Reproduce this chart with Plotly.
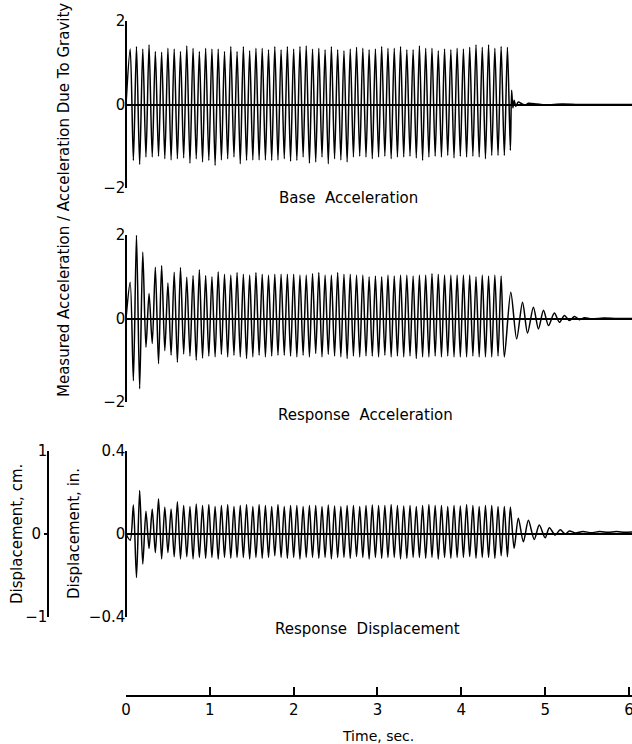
import plotly.graph_objects as go

W, H = 632, 744

# Times (s) of successive extremes during forced vibration, read from the record
t_forced = [
    0.050, 0.088, 0.125, 0.163, 0.200, 0.238, 0.275, 0.313,
    0.350, 0.388, 0.425, 0.463, 0.500, 0.538, 0.575, 0.613,
    0.650, 0.688, 0.725, 0.763, 0.800, 0.838, 0.875, 0.913,
    0.950, 0.988, 1.025, 1.063, 1.100, 1.138, 1.175, 1.213,
    1.250, 1.288, 1.325, 1.363, 1.400, 1.438, 1.475, 1.513,
    1.550, 1.588, 1.625, 1.663, 1.700, 1.738, 1.775, 1.813,
    1.850, 1.888, 1.925, 1.963, 2.000, 2.038, 2.075, 2.113,
    2.150, 2.188, 2.225, 2.263, 2.300, 2.338, 2.375, 2.413,
    2.450, 2.488, 2.525, 2.563, 2.600, 2.638, 2.675, 2.713,
    2.750, 2.788, 2.825, 2.863, 2.900, 2.938, 2.975, 3.013,
    3.050, 3.088, 3.125, 3.163, 3.200, 3.238, 3.275, 3.313,
    3.350, 3.388, 3.425, 3.463, 3.500, 3.538, 3.575, 3.613,
    3.650, 3.688, 3.725, 3.763, 3.800, 3.838, 3.875, 3.913,
    3.950, 3.988, 4.025, 4.063, 4.100, 4.138, 4.175, 4.213,
    4.250, 4.288, 4.325, 4.363, 4.400, 4.438, 4.475, 4.513,
    4.550,
]

# Base acceleration (g)
base_peaks = [
    1.33, 1.39, 1.33, 1.43, 1.27, 1.25, 1.35, 1.33, 1.27, 1.41, 1.35, 1.27, 1.35, 1.33,
    1.33, 1.27, 1.39, 1.27, 1.39, 1.29, 1.35, 1.35, 1.31, 1.39, 1.31, 1.39, 1.33,
    1.39, 1.41, 1.33, 1.35, 1.31, 1.39, 1.31, 1.29, 1.33, 1.37, 1.35, 1.31, 1.33, 1.39,
    1.35, 1.35, 1.39, 1.31, 1.31, 1.41, 1.35, 1.35, 1.29, 1.33, 1.31, 1.35, 1.33, 1.37,
    1.43, 1.37, 1.43, 1.35, 1.39, 1.37,
]
base_troughs = [
    -1.34, -1.44, -1.26, -1.26, -1.24, -1.30, -1.33, -1.30, -1.28, -1.41, -1.30, -1.38,
    -1.34, -1.46, -1.33, -1.30, -1.26, -1.42, -1.34, -1.33, -1.33, -1.33, -1.34, -1.33,
    -1.30, -1.36, -1.34,
    -1.26, -1.41, -1.38, -1.26, -1.42, -1.30, -1.33, -1.38, -1.26, -1.24, -1.26, -1.30,
    -1.26, -1.24, -1.30, -1.26, -1.26, -1.24, -1.28, -1.34, -1.26, -1.24, -1.26, -1.22,
    -1.28, -1.24, -1.26, -1.24, -1.26, -1.30, -1.22, -1.22, -1.22,
]
base_tail_t = [4.585, 4.600, 4.615, 4.630, 4.650, 4.680, 4.720, 4.760, 4.800, 4.900,
               5.000, 5.200, 5.400, 5.700, 6.036]
base_tail_v = [-1.10, 0.34, -0.08, 0.10, -0.04, 0.06, 0.02, -0.02, 0.03, 0.01,
               -0.01, 0.01, 0.0, 0.0, 0.0]

# Response acceleration (g)
resp_peaks = [
    0.87, 2.00, 1.59, 0.60, 1.23, 1.27, 0.85, 1.11, 1.22, 0.99, 1.03, 1.17, 1.03, 1.00,
    1.12, 1.06, 1.04, 1.10, 1.06, 1.04, 1.10, 1.06, 1.04, 1.06, 1.06, 1.06, 1.06,
    1.04, 1.04, 1.08, 1.10, 1.04, 1.04, 1.10, 1.06, 1.06, 1.04, 1.04, 1.00, 1.02, 1.00,
    1.04, 1.02, 1.04, 1.04, 1.02, 1.04, 1.04, 1.08, 1.06, 1.04, 1.04, 1.04, 1.04, 1.04,
    1.00, 1.04, 1.02, 1.04, 1.02,
]
resp_troughs = [
    -1.49, -1.68, -0.69, -0.60, -1.08, -0.77, -0.88, -1.05, -0.85, -0.90, -1.00, -0.95,
    -0.90, -0.92, -0.86, -0.92, -0.88, -0.92, -0.96, -0.92, -0.88, -0.92, -0.90, -0.88,
    -0.88, -0.90, -0.92,
    -0.88, -0.92, -0.84, -0.92, -0.86, -0.90, -0.92, -0.96, -0.90, -0.92, -0.90, -0.90,
    -0.92, -0.88, -0.92, -0.90, -0.92, -0.90, -0.96, -0.92, -0.92, -0.90, -0.92, -0.90,
    -0.92, -0.92, -0.92, -0.90, -0.92, -0.92, -0.92, -0.90, -0.92,
]
resp_free_t = [4.59, 4.66, 4.73, 4.79, 4.86, 4.92, 4.98, 5.04, 5.11, 5.17, 5.23, 5.29,
               5.35, 5.41, 5.47, 5.55, 5.70, 5.85, 6.036]
resp_free_v = [0.63, -0.49, 0.39, -0.35, 0.27, -0.25, 0.20, -0.17, 0.13, -0.09, 0.07,
               -0.05, 0.05, -0.03, 0.02, -0.01, 0.01, 0.0, 0.0]

# Response displacement (in.)
disp_troughs = [
    -0.030, -0.210, -0.145, -0.070, -0.090, -0.120, -0.090, -0.110, -0.120, -0.110, -0.120,
    -0.113, -0.117, -0.113, -0.121, -0.113, -0.117, -0.113,
    -0.113, -0.121, -0.113, -0.117, -0.113, -0.105, -0.113,
    -0.117, -0.113, -0.121, -0.113, -0.113, -0.117, -0.113,
    -0.121, -0.113, -0.113, -0.117, -0.109, -0.113, -0.121,
    -0.113, -0.117, -0.113, -0.113, -0.121, -0.117, -0.113,
    -0.113, -0.117, -0.113, -0.121, -0.113, -0.117, -0.113,
    -0.113, -0.109, -0.117, -0.113, -0.113, -0.117, -0.105,
]
disp_peaks = [
    0.140, 0.210, 0.110, 0.120, 0.170, 0.130, 0.120, 0.156, 0.137, 0.132, 0.145,
    0.137, 0.142, 0.132, 0.137, 0.142, 0.132, 0.137, 0.142, 0.132, 0.142, 0.137, 0.132,
    0.142, 0.132, 0.137,
    0.137, 0.132, 0.137, 0.137, 0.132, 0.140, 0.135, 0.132, 0.137, 0.137, 0.132, 0.137,
    0.140, 0.137, 0.137, 0.142, 0.137, 0.135, 0.137, 0.132, 0.137, 0.142, 0.137, 0.137,
    0.132, 0.137, 0.135, 0.142, 0.137, 0.132, 0.137, 0.137, 0.132, 0.132,
]
disp_free_t = [4.550, 4.585, 4.630, 4.680, 4.740, 4.800, 4.870, 4.930, 5.000, 5.050,
               5.120, 5.180, 5.240, 5.290, 5.360, 5.450, 5.550, 5.650, 5.750, 5.850,
               5.950, 6.036]
disp_free_v = [-0.110, 0.130, -0.069, 0.076, -0.037, 0.066, -0.026, 0.043, -0.018, 0.030,
               -0.005, 0.020, 0.000, 0.015, 0.005, 0.012, 0.006, 0.012, 0.008, 0.012,
               0.008, 0.010]

time_ticks = [0, 1, 2, 3, 4, 5, 6]


def interleave(first, second, n):
    out = []
    for k in range(n):
        out.append(first[k // 2] if k % 2 == 0 else second[k // 2])
    return out


base_t = [0.0] + t_forced + base_tail_t
base_v = [0.0] + interleave(base_peaks, base_troughs, 121) + base_tail_v
resp_t = [0.0] + t_forced[:120] + resp_free_t
resp_v = [0.0] + interleave(resp_peaks, resp_troughs, 120) + resp_free_v
disp_t = [0.0] + t_forced[:120] + disp_free_t
disp_v = [0.0] + interleave(disp_troughs, disp_peaks, 120) + disp_free_v


def px(x):
    return x / W


def py(y):
    return 1 - y / H


FONT = "DejaVu Sans"
TICKFONT = dict(family=FONT, size=15, color="black")
line = dict(color="black", width=1.5, shape="spline", smoothing=0.8)

fig = go.Figure()
fig.add_trace(go.Scatter(x=base_t, y=base_v, mode="lines", line=line, xaxis="x", yaxis="y"))
fig.add_trace(go.Scatter(x=resp_t, y=resp_v, mode="lines", line=line, xaxis="x", yaxis="y2"))
fig.add_trace(go.Scatter(x=disp_t, y=disp_v, mode="lines", line=line, xaxis="x", yaxis="y3"))
# empty traces so that the centimetre scale axes are created
fig.add_trace(go.Scatter(x=[None], y=[None], mode="lines", xaxis="x", yaxis="y4", hoverinfo="skip"))
fig.add_trace(go.Scatter(x=[None], y=[None], mode="lines", xaxis="x", yaxis="y5", hoverinfo="skip"))

yax_common = dict(
    anchor="free", position=px(126), showline=True, linecolor="black", linewidth=1.5,
    ticks="inside", ticklen=6, tickwidth=1.5, tickcolor="black", showgrid=False,
    zeroline=True, zerolinecolor="black", zerolinewidth=2, automargin=False,
    tickfont=TICKFONT, ticklabelstandoff=-3,
)

fig.update_layout(
    template="none",
    width=W, height=H, margin=dict(l=0, r=0, t=0, b=0, pad=0, autoexpand=False),
    paper_bgcolor="white", plot_bgcolor="white", showlegend=False,
    font=dict(family=FONT, color="black"),
    xaxis=dict(
        domain=[px(126), 1.0], range=[0, 6.036], anchor="free", position=py(696),
        showline=True, linecolor="black", linewidth=1.5, ticks="inside", ticklen=8,
        tickwidth=1.5, tickcolor="black", tickvals=time_ticks,
        ticktext=[str(v) for v in time_ticks], showgrid=False, zeroline=False,
        automargin=False, tickfont=TICKFONT, ticklabeloverflow="allow",
    ),
    yaxis=dict(domain=[py(188), py(21)], range=[-2, 2], tickvals=[-2, 0, 2],
               ticktext=["\u22122", "0", "2"], **yax_common),
    yaxis2=dict(domain=[py(402), py(235)], range=[-2, 2], tickvals=[-2, 0, 2],
                ticktext=["\u22122", "0", "2"], **yax_common),
    yaxis3=dict(domain=[py(617), py(451)], range=[-0.4, 0.4], tickvals=[-0.4, 0, 0.4],
                ticktext=["\u22120.4", "0", "0.4"], **yax_common),
    yaxis4=dict(overlaying="y3", anchor="free", position=px(48), range=[-1, 1],
                showline=True, linecolor="black", linewidth=1.5, ticks="inside",
                ticklen=6, tickwidth=1.5, tickcolor="black", tickvals=[-1, 1],
                ticktext=["\u22121", "1"], showgrid=False, zeroline=False,
                automargin=False, tickfont=TICKFONT, ticklabelstandoff=-3),
    yaxis5=dict(overlaying="y3", anchor="free", position=px(48), range=[-1, 1],
                showline=False, ticks="outside", ticklen=4, tickwidth=1.5,
                tickcolor="black", tickvals=[0], ticktext=["0"], showgrid=False,
                zeroline=False, automargin=False, tickfont=TICKFONT),
)

ann_font = dict(family=FONT, size=15, color="black")
annotations = [
    dict(text="Base  Acceleration", x=px(348), y=py(198)),
    dict(text="Response  Acceleration", x=px(365), y=py(415)),
    dict(text="Response  Displacement", x=px(367), y=py(629)),
    dict(text="Time, sec.", x=px(378), y=py(736), font=dict(family=FONT, size=14, color="black")),
    dict(text="Measured Acceleration / Acceleration Due To Gravity", x=px(64),
         y=py(200), textangle=-90),
    dict(text="Displacement, cm.", x=px(17), y=py(534), textangle=-90),
    dict(text="Displacement, in.", x=px(74), y=py(534), textangle=-90),
]
for a in annotations:
    a.setdefault("font", ann_font)
    fig.add_annotation(xref="paper", yref="paper", showarrow=False,
                       xanchor="center", yanchor="middle", **a)

fig.write_html("out.html", config={"displayModeBar": False},
               post_script="document.body.style.margin='0px';")
